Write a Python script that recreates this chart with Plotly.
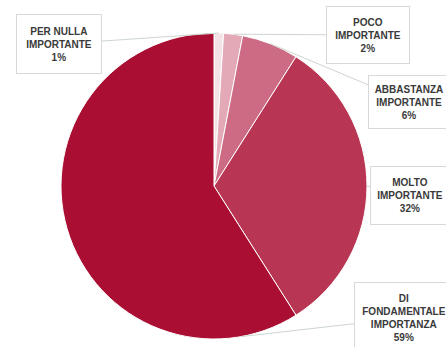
import math
import plotly.graph_objects as go

# Survey answers, in clockwise order starting at 12 o'clock
categories = ["PER NULLA<br>IMPORTANTE", "POCO<br>IMPORTANTE", "ABBASTANZA<br>IMPORTANTE",
              "MOLTO<br>IMPORTANTE", "DI<br>FONDAMENTALE<br>IMPORTANZA"]
percent = [1, 2, 6, 32, 59]

colors = ["#f3e3e7", "#e4a9b7", "#cc6b83", "#b83653", "#aa0f33"]

W, H = 446, 347
# pie placement in pixels
cx, cy, r = 214, 186, 153

# label box centres (pixels), box sizes, and where along each slice the leader line lands
label_centres = [(59, 44), (368, 35), (409, 102), (410, 195), (404, 318)]
box_sizes = [(82, 56), (80, 54), (78, 50), (76, 55), (96, 68)]
anchor_pos = [0.5, 0.5, 0.5, 0.5, 0.105]

fig = go.Figure(go.Pie(
    values=percent,
    labels=[c.replace("<br>", " ") for c in categories],
    sort=False,
    direction="clockwise",
    rotation=0,
    marker=dict(colors=colors, line=dict(color="white", width=1)),
    textinfo="none",
    hoverinfo="label+percent",
    showlegend=False,
    domain=dict(x=[(cx - r) / W, (cx + r) / W], y=[1 - (cy + r) / H, 1 - (cy - r) / H]),
))

total = sum(percent)
start = 0.0
for cat, val, (lx, ly), (bw, bh), pos in zip(categories, percent, label_centres, box_sizes, anchor_pos):
    frac = (start + val * pos) / total
    start += val
    ang = 2 * math.pi * frac
    ex = cx + r * math.sin(ang)
    ey = cy - r * math.cos(ang)
    fig.add_annotation(
        x=ex / W, y=1 - ey / H, xref="paper", yref="paper",
        ax=lx - ex, ay=ly - ey, axref="pixel", ayref="pixel",
        text=f"<b>{cat}<br>{val}%</b>",
        showarrow=True, arrowhead=0, arrowwidth=1, arrowcolor="#cdd6d0",
        font=dict(family="Liberation Sans, Arial, sans-serif", size=10, color="#3a3a3a"),
        align="center", width=bw, height=bh,
        bgcolor="white", bordercolor="#d6d9d7", borderwidth=1,
    )

fig.update_layout(
    width=W, height=H,
    margin=dict(l=0, r=0, t=0, b=0),
    paper_bgcolor="white",
    plot_bgcolor="white",
)

fig.write_html("out.html")
